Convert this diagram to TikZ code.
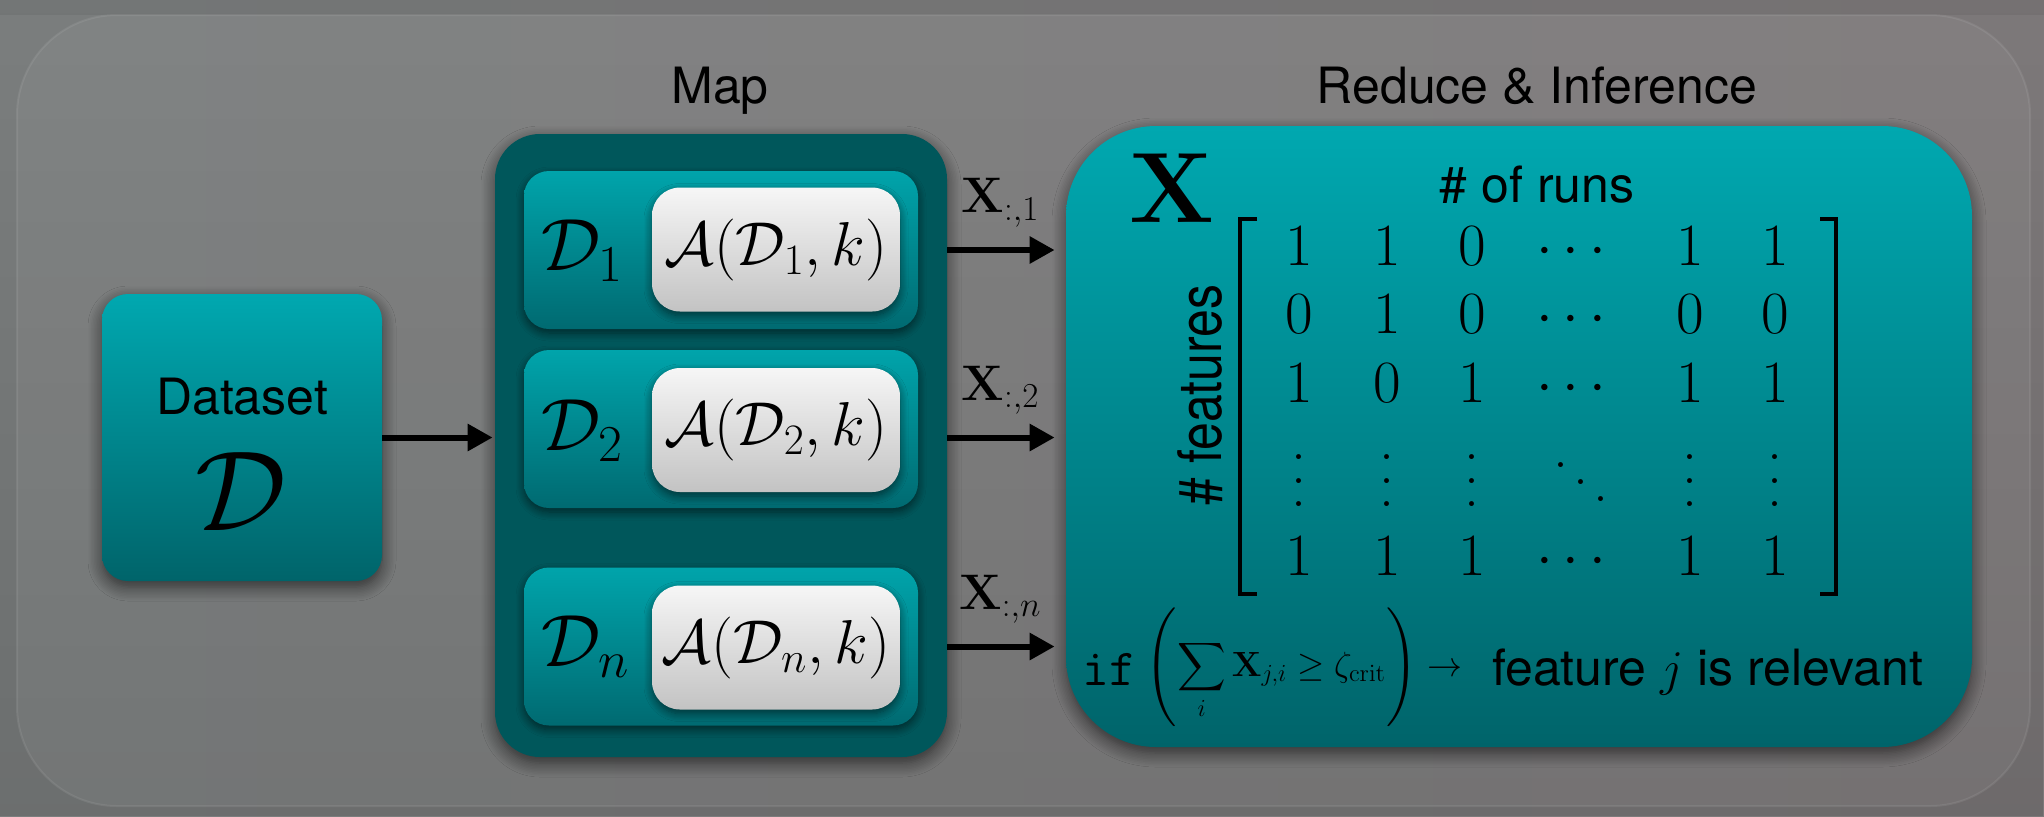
\RequirePackage{fix-cm}
\documentclass[tikz,border=0pt]{standalone}
\usepackage{amsmath}
\usepackage{exscale}
\usepackage[no-math]{fontspec}
\newfontfamily\hel{TeX Gyre Heros}
\usetikzlibrary{arrows.meta,shadows.blur,fadings}
\definecolor{tealtop}{HTML}{00A8B0}
\definecolor{tealbot}{HTML}{00646A}
\definecolor{mapdark}{HTML}{00575B}
\definecolor{boxtop}{HTML}{00A4AB}
\definecolor{boxbot}{HTML}{006A71}
\definecolor{wtop}{HTML}{F6F6F6}
\definecolor{wbot}{HTML}{C3C3C3}
\definecolor{bgl}{HTML}{7B7E7E}
\definecolor{bgr}{HTML}{7D797A}
\newcommand\myvdots{\vbox{\baselineskip=11.75pt\lineskiplimit=0pt\lineskip=0pt\hbox{.}\hbox{.}\hbox{.}}}
\newcommand\myddots{\hbox{\raisebox{17pt}{.}\kern2.5pt\raisebox{8.5pt}{.}\kern2.5pt\raisebox{0pt}{.}}}
\newcommand\bigsum{\mathop{\vcenter{\hbox{\resizebox*{!}{27pt}{$\displaystyle\sum$}}}}\limits}
\newcommand\bigparL{\mathopen{\vcenter{\hbox{\resizebox*{!}{60pt}{$\Biggl($}}}}}
\newcommand\bigparR{\mathclose{\vcenter{\hbox{\resizebox*{!}{60pt}{$\Biggr)$}}}}}
\tikzfading[name=fadebot, top color=transparent!100, bottom color=transparent!0]
\tikzset{
  sans/.style={font=\hel\fontsize{25}{30}\selectfont, inner sep=0pt, text=black},
  bigshadow/.style={blur shadow={shadow xshift=0pt, shadow yshift=-3pt, shadow blur radius=7pt, shadow blur steps=10, shadow opacity=60}},
  smallshadow/.style={blur shadow={shadow xshift=0pt, shadow yshift=-2pt, shadow blur radius=4pt, shadow blur steps=8, shadow opacity=55}},
  tealbox/.style={rectangle, draw=none, top color=tealtop, bottom color=tealbot, bigshadow},
  mapbox/.style={rectangle, draw=none, fill=mapdark, bigshadow},
  dbox/.style={rectangle, rounded corners=12.5pt, minimum width=197pt, minimum height=79pt, top color=boxtop, bottom color=boxbot, smallshadow},
  wbox/.style={rectangle, rounded corners=14pt, minimum width=124pt, minimum height=62pt, top color=wtop, bottom color=wbot, inner sep=0pt, font=\fontsize{31}{36}\selectfont, smallshadow},
  dlab/.style={font=\fontsize{37}{42}\selectfont, inner sep=0pt, anchor=base west},
  xlab/.style={font=\fontsize{25}{30}\selectfont, inner sep=0pt},
  arr/.style={line width=3pt, -{Triangle[length=12.5pt,width=13pt]}},
  mat/.style={font=\fontsize{30}{36}\selectfont, inner sep=0pt, anchor=base},
  brk/.style={line width=2.3pt},
}
\begin{document}
\begin{tikzpicture}[x=0.5pt,y=-0.5pt]
\useasboundingbox (0,0) rectangle (2044,816);
% background
\fill[left color=bgl, right color=bgr] (0,0) rectangle (2044,816);
\fill[black, opacity=0.12, path fading=fadebot] (0,0) rectangle (2044,816);
\fill[black, opacity=0.06] (0,0) rectangle (2044,15);
\draw[rounded corners=50pt, fill=white, fill opacity=0.05, draw=white, draw opacity=0.08, line width=1pt] (17,15) rectangle (2030,806);

% dataset
\node[tealbox, minimum width=140pt, minimum height=143.5pt, rounded corners=13pt] (dataset) at (242,437.5) {};
\node[sans, anchor=base] (dstext) at (242,414) {Dataset};
\node[font=\fontsize{57}{60}\selectfont, inner sep=0pt] (dsD) at (241,492) {$\mathcal{D}$};

% map
\node[sans, anchor=base] (maptitle) at (720,103) {Map};
\node[mapbox, minimum width=226pt, minimum height=311.5pt, rounded corners=22.5pt] (map) at (721,445.5) {};
\node[dbox] (d1) at (721,250) {};
\node[dbox] (d2) at (721,429) {};
\node[dbox] (dn) at (721,646.5) {};
\node[wbox] (w1) at (776,249.5) {$\mathcal{A}(\mathcal{D}_1,k)$};
\node[wbox] (w2) at (776,430) {$\mathcal{A}(\mathcal{D}_2,k)$};
\node[wbox] (wn) at (776,647.5) {$\mathcal{A}(\mathcal{D}_n,k)$};
\node[dlab] (l1) at (541,270) {$\mathcal{D}_1$};
\node[dlab] (l2) at (541,450) {$\mathcal{D}_2$};
\node[dlab] (ln) at (541,666) {$\mathcal{D}_n$};

% reduce
\node[sans, anchor=base] (redtitle) at (1537,103) {Reduce \& Inference};
\node[tealbox, minimum width=453pt, minimum height=310.5pt, rounded corners=45pt] (reduce) at (1519,436.5) {};
\node[font=\fontsize{50}{52}\selectfont, inner sep=0pt] (bigX) at (1172,188) {$\mathbf{X}$};
\node[sans, anchor=base] (runs) at (1537,202) {\# of runs};
\node[sans, rotate=90] (feat) at (1200,395) {\scalebox{1}[1.2]{\# features}};

% matrix
\foreach \x/\v [count=\c] in {1299/1,1387/1,1472/0,1576/\cdots,1690/1,1775/1}
  \node[mat] (ma\c) at (\x,265) {$\v$};
\foreach \x/\v [count=\c] in {1299/0,1387/1,1472/0,1576/\cdots,1690/0,1775/0}
  \node[mat] (mb\c) at (\x,333) {$\v$};
\foreach \x/\v [count=\c] in {1299/1,1387/0,1472/1,1576/\cdots,1690/1,1775/1}
  \node[mat] (mc\c) at (\x,402) {$\v$};
\foreach \x [count=\c] in {1299,1387,1472,1690,1775}
  \node[mat, anchor=center] (md\c) at (\x,481) {\myvdots};
\node[mat, anchor=center] (mdd) at (1581,482) {\myddots};
\foreach \x/\v [count=\c] in {1299/1,1387/1,1472/1,1576/\cdots,1690/1,1775/1}
  \node[mat] (me\c) at (\x,575) {$\v$};
\draw[brk] (1257,219) -- (1240,219) -- (1240,594) -- (1257,594);
\draw[brk] (1820,219) -- (1836,219) -- (1836,594) -- (1820,594);

% rule
\node[font=\hel\fontsize{25}{30}\selectfont, inner sep=0pt, anchor=base west] (rule) at (1082,685)
  {{\fontsize{26}{30}\selectfont\ttfamily if}\hspace{5pt}\raisebox{4.5pt}{\fontsize{17.5}{21}\selectfont$\displaystyle\bigparL\bigsum_i\mathbf{X}_{j,i}\geq\zeta_{\mathrm{crit}}\bigparR\rightarrow$}\hspace{15pt}feature $j$ is relevant};

% connectors
\draw[arr, shorten >=1pt] (dataset.east) -- (map.west |- dataset.east);
\draw[arr, shorten >=5.5pt] (map.east |- d1.center) -- (reduce.west |- d1.center)
  node[xlab, midway, above=10pt, xshift=-3pt] (x1) {$\mathbf{X}_{:,1}$};
\draw[arr, shorten >=5.5pt] (map.east |- dataset.east) -- (reduce.west |- dataset.east)
  node[xlab, midway, above=10pt, xshift=-3pt] (x2) {$\mathbf{X}_{:,2}$};
\draw[arr, shorten >=5.5pt] (map.east |- dn.center) -- (reduce.west |- dn.center)
  node[xlab, midway, above=10pt, xshift=-3pt] (xn) {$\mathbf{X}_{:,n}$};
\end{tikzpicture}
\end{document}
